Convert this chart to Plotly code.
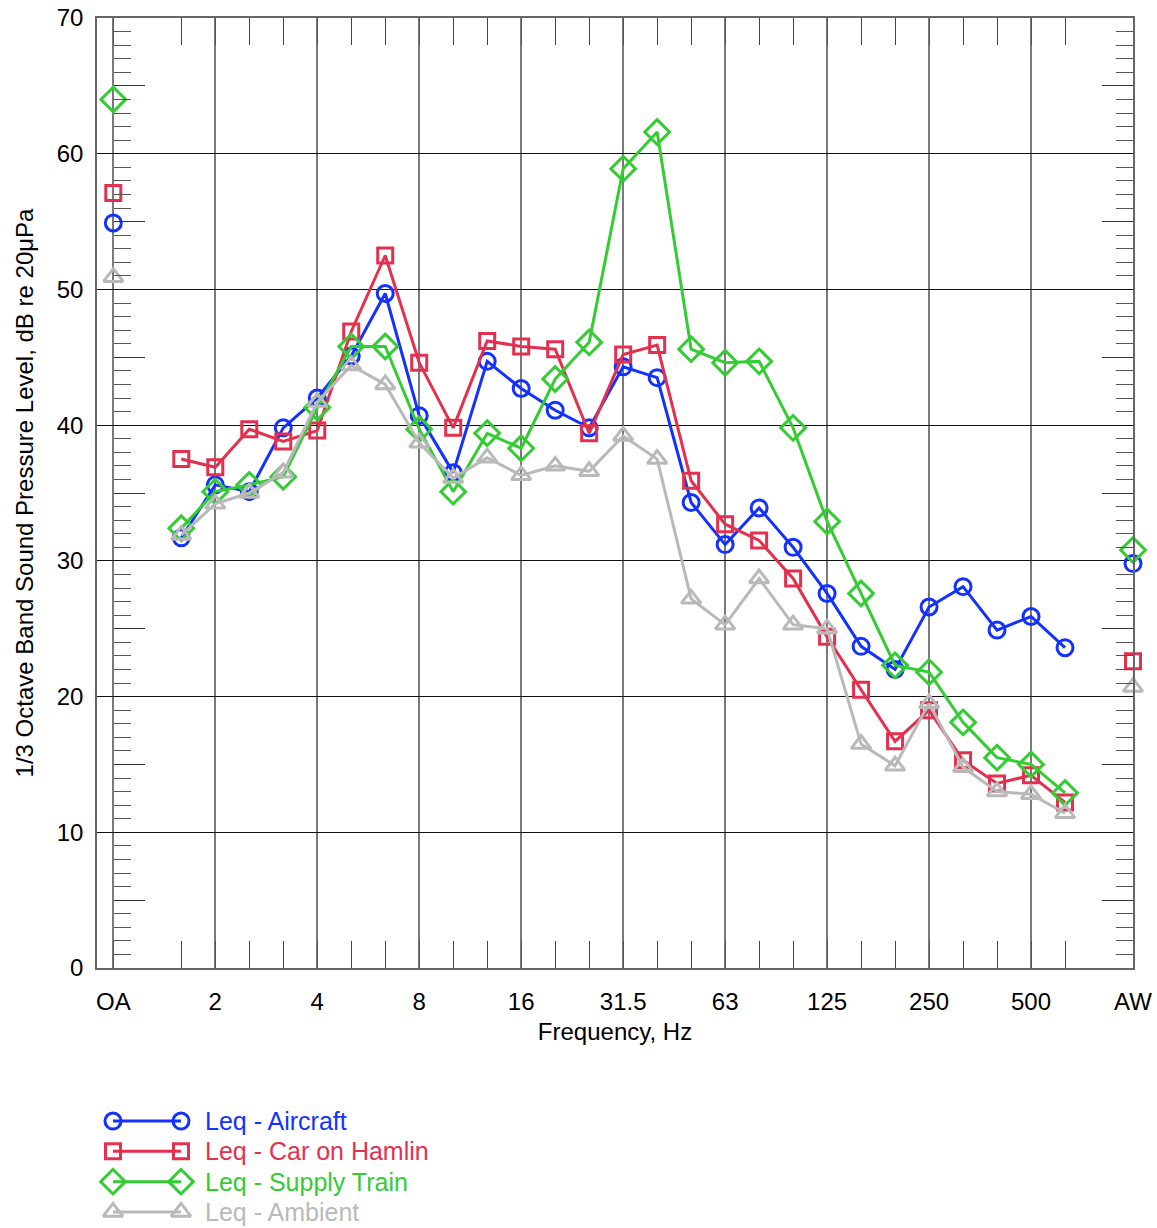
import plotly.graph_objects as go

# Frequency slots along the x axis: overall level, 1/3-octave bands, A-weighted level
CATEGORIES = ["OA", "1.25", "1.6", "2", "2.5", "3.15", "4", "5", "6.3", "8", "10",
              "12.5", "16", "20", "25", "31.5", "40", "50", "63", "80", "100", "125",
              "160", "200", "250", "315", "400", "500", "630", "800", "AW"]
BANDS = ["1.6", "2", "2.5", "3.15", "4", "5", "6.3", "8", "10", "12.5", "16", "20",
         "25", "31.5", "40", "50", "63", "80", "100", "125", "160", "200", "250",
         "315", "400", "500", "630"]
TICK_LABELS = ["OA", "2", "4", "8", "16", "31.5", "63", "125", "250", "500", "AW"]

SERIES_NAMES = ["Leq - Aircraft", "Leq - Car on Hamlin", "Leq - Supply Train", "Leq - Ambient"]
SERIES_COLORS = ["#1432ff", "#e4304f", "#33cc33", "#b9b9b9"]
SERIES_SYMBOLS = ["circle-open", "square-open", "diamond-open", "triangle-up-open"]
SERIES_SIZES = [16, 15, 19, 17]

# Levels in dB per band, plus the OA and AW single values
aircraft_bands = [31.7, 35.6, 35.1, 39.8, 42.0, 45.1, 49.7, 40.7, 36.5, 44.7, 42.7, 41.1,
                  39.8, 44.3, 43.5, 34.3, 31.2, 33.9, 31.0, 27.6, 23.7, 22.0, 26.6,
                  28.1, 24.9, 25.9, 23.6]
car_bands = [37.5, 36.9, 39.7, 38.8, 39.6, 46.9, 52.5, 44.6, 39.8, 46.2, 45.8, 45.6,
             39.4, 45.2, 45.9, 35.9, 32.7, 31.5, 28.7, 24.4, 20.5, 16.7, 19.0,
             15.3, 13.6, 14.2, 12.2]
train_bands = [32.4, 35.1, 35.6, 36.2, 41.3, 45.8, 45.8, 39.7, 35.1, 39.4, 38.3, 43.4,
               46.1, 58.9, 61.6, 45.6, 44.6, 44.7, 39.8, 32.9, 27.6, 22.3, 21.8,
               18.1, 15.5, 15.0, 12.9]
ambient_bands = [31.9, 34.2, 35.0, 36.5, 41.7, 44.4, 43.0, 38.7, 36.1, 37.6, 36.3, 37.0,
                 36.6, 39.2, 37.5, 27.2, 25.3, 28.7, 25.3, 25.0, 16.5, 14.9, 19.5,
                 14.8, 13.0, 12.8, 11.4]
oa_levels = [54.9, 57.1, 64.0, 50.9]
aw_levels = [29.8, 22.6, 30.8, 20.7]
band_levels = [aircraft_bands, car_bands, train_bands, ambient_bands]

Y_MAX = 70
FONT = "Liberation Sans, Arial, sans-serif"
FS = 24

def pos(cat):
    return CATEGORIES.index(cat)

band_x = [pos(b) for b in BANDS]
X_RANGE = [-0.48, pos("AW")]
OA_FRAC = (pos("OA") - X_RANGE[0]) / (X_RANGE[1] - X_RANGE[0])

fig = go.Figure()

for name, color, sym, size, levels, oa, aw in zip(SERIES_NAMES, SERIES_COLORS, SERIES_SYMBOLS,
                                                 SERIES_SIZES, band_levels, oa_levels, aw_levels):
    marker = dict(symbol=sym, size=size, color=color, line=dict(color=color, width=3))
    fig.add_trace(go.Scatter(x=band_x, y=levels, mode="lines+markers", name=name,
                             line=dict(color=color, width=3), marker=marker,
                             showlegend=False))
    fig.add_trace(go.Scatter(x=[pos("OA"), pos("AW")], y=[oa, aw], mode="markers",
                             marker=marker, showlegend=False, hoverinfo="skip",
                             cliponaxis=False))

# helper traces so the overlay tick axes are drawn
for ya in ["y2", "y3"]:
    fig.add_trace(go.Scatter(x=[], y=[], xaxis="x", yaxis=ya, showlegend=False, hoverinfo="skip"))
fig.add_trace(go.Scatter(x=[], y=[], xaxis="x2", yaxis="y", showlegend=False, hoverinfo="skip"))

# legend block drawn on its own hidden axes
LEG_X0, LEG_X1, LEG_TX = 16, 84, 106
for i, (name, color, sym, size) in enumerate(zip(SERIES_NAMES, SERIES_COLORS, SERIES_SYMBOLS, SERIES_SIZES)):
    fig.add_trace(go.Scatter(x=[LEG_X0, LEG_X1], y=[i, i], xaxis="x4", yaxis="y4",
                             mode="lines+markers", showlegend=False, hoverinfo="skip",
                             cliponaxis=False,
                             line=dict(color=color, width=3),
                             marker=dict(symbol=sym, size=size, color=color,
                                         line=dict(color=color, width=3))))
    fig.add_annotation(x=LEG_TX, y=i, xref="x4", yref="y4", text=name, showarrow=False,
                       xanchor="left", yanchor="middle",
                       font=dict(family=FONT, size=FS + 1, color=color))

major_y = list(range(0, Y_MAX + 1, 10))
half_y = list(range(5, Y_MAX, 10))
unit_y = [v for v in range(1, Y_MAX) if v % 5 != 0]
labeled_x = [pos(c) for c in TICK_LABELS]
minor_x = [p for p in band_x if p not in labeled_x]

MAIN_BOTTOM = 260 / 1210
LEG_TOP = 123 / 1210

tick_axis = dict(range=[0, Y_MAX], overlaying="y", showticklabels=False, showgrid=False,
                 showline=False, zeroline=False, tickmode="array", tickvals=half_y,
                 ticks="inside", ticklen=31, tickwidth=1.3, tickcolor="#333", automargin=False,
                 minor=dict(tickmode="array", tickvals=unit_y, ticks="inside", ticklen=17,
                            tickwidth=1.3, tickcolor="#555", showgrid=False))

fig.update_layout(
    width=1157, height=1228,
    margin=dict(l=97, r=24, t=18, b=0, autoexpand=False),
    paper_bgcolor="white", plot_bgcolor="white",
    font=dict(family=FONT, size=FS, color="black"),
    xaxis=dict(domain=[0, 1], anchor="y", range=X_RANGE, tickmode="array",
               tickvals=labeled_x, ticktext=TICK_LABELS, ticks="inside", ticklen=27,
               tickcolor="#555", tickwidth=1.3, ticklabelstandoff=11, automargin=False,
               showgrid=True, gridcolor="#7a7a7a", gridwidth=1.6, zeroline=False,
               showline=True, linecolor="#666", linewidth=1.5, mirror=True,
               minor=dict(tickmode="array", tickvals=minor_x, ticks="inside", ticklen=27,
                          tickwidth=1.3, tickcolor="#444", showgrid=False),
               title=dict(text="Frequency, Hz", standoff=10, font=dict(size=FS))),
    xaxis2=dict(overlaying="x", side="top", anchor="y", range=X_RANGE, showticklabels=False,
                showgrid=False, showline=False, zeroline=False, tickmode="array", automargin=False,
                tickvals=labeled_x, ticks="inside", ticklen=27, tickcolor="#555", tickwidth=1.3,
                minor=dict(tickmode="array", tickvals=minor_x, ticks="inside", ticklen=27,
                           tickwidth=1.3, tickcolor="#444", showgrid=False)),
    yaxis=dict(domain=[MAIN_BOTTOM, 1], anchor="x", range=[0, Y_MAX], tickmode="array",
               tickvals=major_y, ticks="", ticklabelstandoff=7, automargin=False,
               showgrid=True, gridcolor="#111", gridwidth=1.3, zeroline=False,
               showline=True, linecolor="#666", linewidth=1.5, mirror=True,
               title=dict(text="1/3 Octave Band Sound Pressure Level, dB re 20\u03bcPa",
                          standoff=16, font=dict(size=FS))),
    yaxis2=dict(anchor="free", position=OA_FRAC, side="left", **tick_axis),
    yaxis3=dict(anchor="x", side="right", **tick_axis),
    xaxis4=dict(domain=[0, 1], anchor="y4", range=[0, 1036], visible=False, automargin=False),
    yaxis4=dict(domain=[0, LEG_TOP], anchor="x4", range=[3.53, -0.53], visible=False,
                automargin=False),
    showlegend=False,
)

fig.write_html("out.html")
